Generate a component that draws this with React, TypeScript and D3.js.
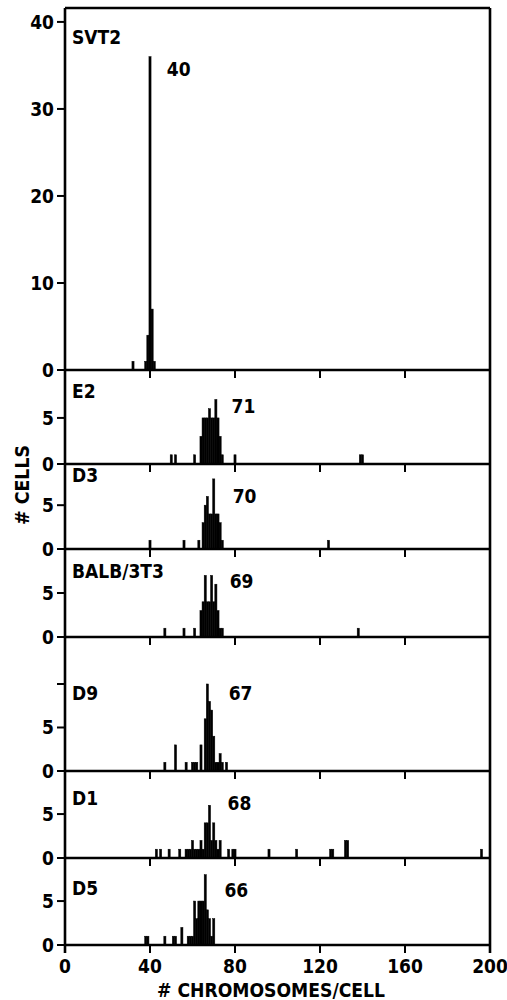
import * as d3 from 'd3';

// x axis
const X_TICKS = [0, 40, 80, 120, 160, 200];

// panels, top to bottom
const PANEL_NAMES = ['SVT2', 'E2', 'D3', 'BALB/3T3', 'D9', 'D1', 'D5'];
const MODAL_LABELS = ['40', '71', '70', '69', '67', '68', '66'];
const Y_MAX = [41.6, 10.2, 9.7, 10, 15.4, 9.9, 9.9];
const Y_TICKS = [[0, 10, 20, 30, 40], [0, 5], [0, 5], [0, 5], [0, 5, 10], [0, 5], [0, 5]];
const Y_TICK_LABELS = [['0', '10', '20', '30', '40'], ['0', '5'], ['0', '5'], ['0', '5'], ['0', '5', ''], ['0', '5'], ['0', '5']];

// [chromosomes per cell, number of cells]
const SVT2: [number, number][] = [[32, 1], [38, 1], [39, 4], [40, 36], [41, 7], [42, 1]];
const E2: [number, number][] = [
  [50, 1], [52, 1], [61, 1], [64, 3], [65, 5], [66, 5], [67, 5], [68, 6], [69, 5], [70, 5],
  [71, 7], [72, 5], [73, 3], [74, 1], [80, 1], [139, 1], [140, 1],
];
const D3: [number, number][] = [
  [40, 1], [56, 1], [63, 1], [65, 3], [66, 5], [67, 6], [68, 4], [69, 4], [70, 8], [71, 4],
  [72, 4], [73, 3], [74, 1], [124, 1],
];
const BALB: [number, number][] = [
  [47, 1], [56, 1], [61, 1], [64, 3], [65, 4], [66, 7], [67, 4], [68, 4], [69, 7], [70, 4],
  [71, 6], [72, 3], [73, 1], [74, 1], [138, 1],
];
const D9: [number, number][] = [
  [47, 1], [52, 3], [57, 1], [60, 1], [61, 1], [62, 1], [64, 3], [66, 6], [67, 10], [68, 8],
  [69, 7], [70, 4], [71, 1], [72, 1], [73, 2], [74, 1], [76, 1],
];
const D1: [number, number][] = [
  [43, 1], [45, 1], [49, 1], [54, 1], [57, 1], [58, 1], [59, 1], [60, 2], [61, 1], [62, 1],
  [63, 1], [64, 2], [65, 1], [66, 4], [67, 4], [68, 6], [69, 2], [70, 4], [71, 2], [72, 1],
  [73, 2], [77, 1], [79, 1], [80, 1], [96, 1], [109, 1], [125, 1], [126, 1], [132, 2], [133, 2],
  [196, 1],
];
const D5: [number, number][] = [
  [38, 1], [39, 1], [47, 1], [51, 1], [52, 1], [55, 2], [58, 1], [59, 1], [60, 1], [61, 5],
  [62, 3], [63, 5], [64, 5], [65, 5], [66, 8], [67, 4], [68, 3], [69, 1], [70, 3],
];
const SERIES = [SVT2, E2, D3, BALB, D9, D1, D5];

// label placement, in each panel's own units
const NAME_X = 3.3;
const NAME_Y = [37.5, 7.2, 7.6, 6.7, 8.2, 6.0, 5.7];
const MODAL_X = [47.9, 78.4, 78.9, 77.5, 77, 76.5, 75];
const MODAL_Y = [33.8, 5.5, 5.3, 5.6, 8.2, 5.5, 5.5];

const W = 507;
const H = 1000;
const LEFT = 65;
const RIGHT = 490;
const TOP = 8;
const PANEL_H = [362, 94, 85, 88, 134, 87, 87];

const FONT = "'DejaVu Sans Condensed', 'DejaVu Sans', sans-serif";

const App = () => {
  const x = d3.scaleLinear().domain([0, 200]).range([LEFT, RIGHT]);
  const bottoms = Array.from(d3.cumsum(PANEL_H), (d) => TOP + d);
  const tops = bottoms.map((b, i) => b - PANEL_H[i]);
  const lastBottom = bottoms[bottoms.length - 1];

  return (
    <svg
      width={W}
      height={H}
      style={{ position: 'absolute', left: 0, top: 0, background: 'white' }}
      fontFamily={FONT}
      fontWeight="bold"
    >
      {SERIES.map((data, i) => {
        const y = d3.scaleLinear().domain([0, Y_MAX[i]]).range([bottoms[i], tops[i]]);
        return (
          <g key={PANEL_NAMES[i]}>
            {data.map(([n, c]) => (
              <rect
                key={n}
                x={x(n - 0.5)}
                width={x(n + 0.5) - x(n - 0.5)}
                y={y(c)}
                height={y(0) - y(c)}
                fill="#000"
                stroke="#000"
                strokeWidth={0.5}
              />
            ))}
            {/* baseline of the panel */}
            <line x1={LEFT} x2={RIGHT} y1={y(0)} y2={y(0)} stroke="#000" strokeWidth={2.4} />
            {/* x ticks hanging below the baseline */}
            {X_TICKS.filter((t) => i === SERIES.length - 1 || (t > 0 && t < 200)).map((t) => (
              <line key={t} x1={x(t)} x2={x(t)} y1={y(0)} y2={y(0) + 8} stroke="#000" strokeWidth={2} />
            ))}
            {Y_TICKS[i].map((t, k) => (
              <g key={t}>
                <line x1={LEFT - 8} x2={LEFT} y1={y(t)} y2={y(t)} stroke="#000" strokeWidth={2} />
                <text x={LEFT - 11} y={y(t)} dy="0.36em" textAnchor="end" fontSize={19}>
                  {Y_TICK_LABELS[i][k]}
                </text>
              </g>
            ))}
            <text x={x(NAME_X)} y={y(NAME_Y[i])} fontSize={19}>
              {PANEL_NAMES[i]}
            </text>
            <text x={x(MODAL_X[i])} y={y(MODAL_Y[i])} fontSize={19}>
              {MODAL_LABELS[i]}
            </text>
          </g>
        );
      })}

      {/* frame */}
      <line x1={LEFT} x2={LEFT} y1={TOP} y2={lastBottom + 8} stroke="#000" strokeWidth={2.6} />
      <line x1={RIGHT} x2={RIGHT} y1={TOP} y2={lastBottom + 8} stroke="#000" strokeWidth={2.6} />
      <line x1={LEFT} x2={RIGHT} y1={TOP} y2={TOP} stroke="#000" strokeWidth={2.6} />

      {X_TICKS.map((t) => (
        <text key={t} x={x(t)} y={lastBottom + 28} textAnchor="middle" fontSize={19}>
          {t}
        </text>
      ))}
      <text
        x={271}
        y={lastBottom + 52}
        textAnchor="middle"
        fontSize={19}
        textLength={228}
        lengthAdjust="spacingAndGlyphs"
      >
        # CHROMOSOMES/CELL
      </text>
      <text
        transform={`translate(29, 485) rotate(-90)`}
        textAnchor="middle"
        fontSize={19}
        textLength={80}
        lengthAdjust="spacingAndGlyphs"
      >
        # CELLS
      </text>
    </svg>
  );
};

export default App;
